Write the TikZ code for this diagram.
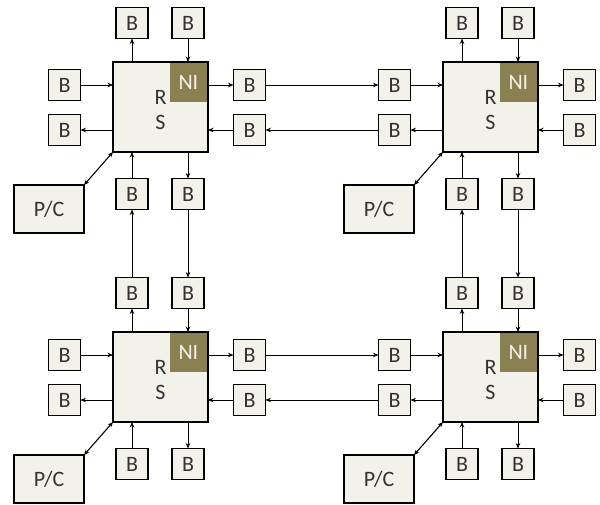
\documentclass[tikz,border=0pt]{standalone}
\usepackage{fontspec}
\setmainfont{Carlito}
\usetikzlibrary{arrows.meta,calc}
\definecolor{boxfill}{HTML}{F2F1EA}
\definecolor{nifill}{HTML}{8A8052}
\definecolor{txt}{HTML}{333333}
\definecolor{nitxt}{HTML}{F4F2E6}
\begin{document}
\begin{tikzpicture}[x=1pt,y=-1pt,
  every node/.style={outer sep=0pt},
  lbl/.style={text=txt,font=\fontsize{22}{24}\selectfont,inner sep=0pt},
  buf/.style={lbl,draw=black,line width=1.8pt,fill=boxfill,minimum width=32pt,minimum height=31pt},
  rtr/.style={draw=black,line width=2.2pt,fill=boxfill,minimum width=95pt,minimum height=90pt,inner sep=0pt},
  ni/.style={lbl,fill=nifill,minimum width=37pt,minimum height=39pt,text=nitxt,anchor=north east},
  pcbox/.style={buf,minimum width=70pt,minimum height=48pt},
  conn/.style={line width=1pt,-{Stealth[length=5.5pt,width=4.5pt]}},
  biconn/.style={line width=1.1pt,{Stealth[length=5.5pt,width=4.5pt]}-{Stealth[length=5.5pt,width=4.5pt]}}
]
\useasboundingbox (0,0) rectangle (600,504);
\foreach \n/\dx/\dy in {a/0/0,b/330/0,c/0/270,d/330/270}{
  \begin{scope}[shift={(\dx,\dy)}]
    \node[rtr] (\n R) at (160.5,107) {};
    \node[ni] (\n NI) at ($(\n R.north east)+(-1.1,1.1)$) {NI};
    \node[lbl] (\n Rl) at ($(\n R.center)+(0,-10)$) {R};
    \node[lbl] (\n Sl) at ($(\n R.center)+(0,15)$) {S};
    \node[buf] (\n N1) at (132,23) {B};
    \node[buf] (\n N2) at (188,23) {B};
    \node[buf] (\n W1) at (64.5,85) {B};
    \node[buf] (\n W2) at (64.5,130) {B};
    \node[buf] (\n E1) at (249.5,85) {B};
    \node[buf] (\n E2) at (249.5,130) {B};
    \node[buf] (\n S1) at (132,194) {B};
    \node[buf] (\n S2) at (188,194) {B};
    \node[pcbox] (\n PC) at (49,209) {P/C};
    \draw[conn] (\n N1 |- \n R.north) -- (\n N1.south);
    \draw[conn] (\n N2.south) -- (\n N2 |- \n R.north);
    \draw[conn] (\n W1.east) -- (\n W1 -| \n R.west);
    \draw[conn] (\n W2 -| \n R.west) -- (\n W2.east);
    \draw[conn] (\n E1 -| \n R.east) -- (\n E1.west);
    \draw[conn] (\n E2.west) -- (\n E2 -| \n R.east);
    \draw[conn] (\n S1.north) -- (\n S1 |- \n R.south);
    \draw[conn] (\n S2 |- \n R.south) -- (\n S2.north);
    \draw[biconn] (\n R.south west) -- (\n PC.north east);
  \end{scope}
}
\draw[conn] (aE1.east) -- (bW1.west);
\draw[conn] (bW2.west) -- (aE2.east);
\draw[conn] (cE1.east) -- (dW1.west);
\draw[conn] (dW2.west) -- (cE2.east);
\draw[conn] (cN1.north) -- (aS1.south);
\draw[conn] (aS2.south) -- (cN2.north);
\draw[conn] (dN1.north) -- (bS1.south);
\draw[conn] (bS2.south) -- (dN2.north);
\end{tikzpicture}
\end{document}
